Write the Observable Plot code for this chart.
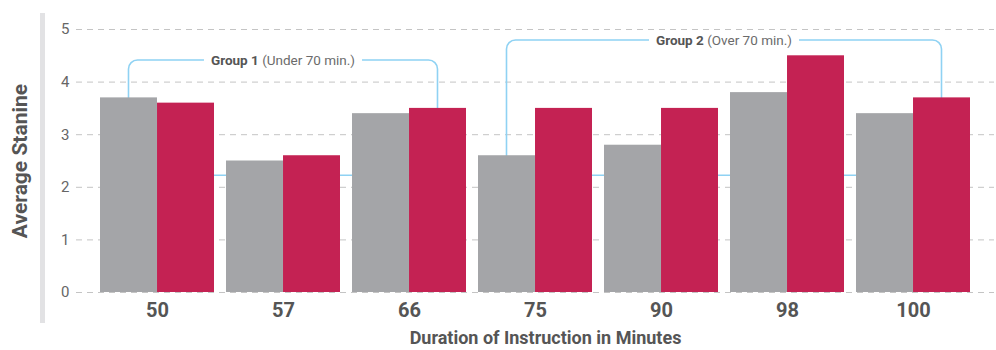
<!DOCTYPE html>
<html>
<head>
<meta charset="utf-8">
<script src="https://cdn.jsdelivr.net/npm/d3@7"></script>
<script src="https://cdn.jsdelivr.net/npm/@observablehq/plot@0.6"></script>
<style>
  html, body { margin: 0; padding: 0; background: #fff; }
  #wrap { position: relative; width: 996px; height: 350px; }
  #deco { position: absolute; left: 40px; top: 13px; width: 5px; height: 310px; background: #e2e2e4; }
</style>
</head>
<body>
<div id="wrap"><div id="deco"></div></div>
<script>
// ---- data ----
const durations = ["50", "57", "66", "75", "90", "98", "100"];
const comparisonValues = [3.7, 2.5, 3.4, 2.6, 2.8, 3.8, 3.4]; // gray
const programValues = [3.6, 2.6, 3.5, 3.5, 3.5, 4.5, 3.7];    // red
const yTicks = [0, 1, 2, 3, 4, 5];
const groupNames = ["Group 1", "Group 2"];
const groupNotes = ["(Under 70 min.)", "(Over 70 min.)"];
const groupFirst = ["50", "75"];
const groupLast = ["66", "100"];
const groupTop = [4.41, 4.79];
const groupBottom = [2.22, 2.22];
const yTitle = "Average Stanine";
const xTitle = "Duration of Instruction in Minutes";

// ---- layout ----
const W = 996, H = 350;
const mL = 76, mR = 2, mT = 29, mB = 58;
const padIn = 0.095, padOut = 0.19;
const FONT = "'Roboto', 'Liberation Sans', sans-serif";
const GRAY = "#a4a5a8", RED = "#c42253", BLUE = "#8fd2f3";

const bw = d3.scaleBand(durations, [mL, W - mR]).paddingInner(padIn).paddingOuter(padOut).bandwidth();

const gray = durations.map((d, i) => ({duration: d, value: comparisonValues[i]}));
const red = durations.map((d, i) => ({duration: d, value: programValues[i]}));

const chart = Plot.plot({
  width: W, height: H,
  marginLeft: mL, marginRight: mR, marginTop: mT, marginBottom: mB,
  style: {fontFamily: FONT, fontSize: "15px", background: "transparent"},
  x: {type: "band", domain: durations, paddingInner: padIn, paddingOuter: padOut, align: 0.5},
  y: {domain: [0, 5]},
  marks: [
    Plot.gridY(yTicks, {stroke: "#c4c4c4", strokeOpacity: 1, strokeDasharray: "6,5", strokeWidth: 1}),
    Plot.barY(gray, {x: "duration", y: "value", fill: GRAY, insetRight: bw / 2, insetLeft: 0}),
    Plot.barY(red, {x: "duration", y: "value", fill: RED, insetLeft: bw / 2, insetRight: 0}),
    Plot.axisY(yTicks, {tickSize: 0, tickPadding: 7, label: null, tickFormat: d3.format("d"), fontSize: 15, color: "#666"}),
    Plot.axisX({tickSize: 0, tickPadding: 10, label: null, fontSize: 20, fontWeight: "bold", color: "#555"}),
    Plot.text([yTitle], {frameAnchor: "left", textAnchor: "middle", lineAnchor: "middle", rotate: -90, dx: -56, fontSize: 21, fontWeight: "bold", fill: "#555"}),
    Plot.text([xTitle], {frameAnchor: "bottom", textAnchor: "middle", lineAnchor: "middle", dy: 46, dx: 10, fontSize: 18, fontWeight: "bold", fill: "#555"})
  ]
});

document.getElementById("wrap").appendChild(chart);
chart.style.position = "absolute";
chart.style.left = "0"; chart.style.top = "0";

// ---- group brackets (drawn with Plot's own scales) ----
const sx = chart.scale("x"), sy = chart.scale("y");
const svg = d3.select(chart);
const firstBar = chart.querySelector('g[aria-label="bar"]');
const g = svg.append("g").attr("class", "brackets");
chart.insertBefore(g.node(), firstBar);
const labels = svg.append("g").attr("class", "bracket-labels");

groupNames.forEach((name, i) => {
  const x1 = sx.apply(groupFirst[i]) + sx.bandwidth / 4;
  const x2 = sx.apply(groupLast[i]) + sx.bandwidth * 3 / 4;
  const y1 = sy.apply(groupTop[i]);
  const y2 = sy.apply(groupBottom[i]);
  g.append("rect")
    .attr("x", x1).attr("y", y1)
    .attr("width", x2 - x1).attr("height", y2 - y1)
    .attr("rx", 9).attr("ry", 9)
    .attr("fill", "none").attr("stroke", BLUE).attr("stroke-width", 1.6);
  const lg = labels.append("g");
  const bg = lg.append("rect").attr("fill", "#fff");
  const t = lg.append("text")
    .attr("x", (x1 + x2) / 2).attr("y", y1).attr("dy", "0.35em")
    .attr("text-anchor", "middle")
    .attr("font-family", FONT).attr("font-size", 13.5);
  t.append("tspan").attr("font-weight", "bold").attr("fill", "#555").text(name);
  t.append("tspan").attr("fill", "#6b6b6b").text(" " + groupNotes[i]);
  const bb = t.node().getBBox();
  bg.attr("x", bb.x - 7).attr("y", y1 - 4).attr("width", bb.width + 14).attr("height", 8);
});
</script>
</body>
</html>
